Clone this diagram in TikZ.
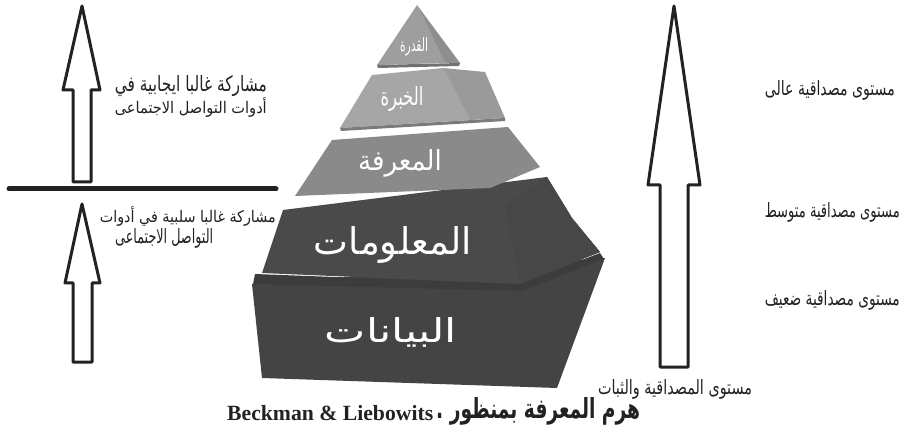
\documentclass[tikz,border=0pt]{standalone}
\usepackage{fontspec}
\usepackage{graphicx}
\setmainfont{Liberation Serif}
\newfontfamily\arabicfont[Script=Arabic]{DejaVu Sans}
\TeXXeTstate=1
\newcommand{\artxt}[3]{\resizebox{#1}{#2}{\arabicfont #3}}
\newcommand{\artxtb}[3]{\resizebox{#1}{#2}{\arabicfont\bfseries #3}}
\definecolor{lay1}{HTML}{9E9E9E}
\definecolor{lay1r}{HTML}{8E8E8E}
\definecolor{lay2}{HTML}{A6A6A6}
\definecolor{lay2r}{HTML}{9A9A9A}
\definecolor{lay3}{HTML}{8A8A8A}
\definecolor{lay4}{HTML}{4A4A4A}
\definecolor{lay4r}{HTML}{474747}
\definecolor{lay5}{HTML}{444444}
\definecolor{strip}{HTML}{3C3C3C}
\definecolor{ink}{HTML}{222222}
\begin{document}
\begin{tikzpicture}[x=1pt,y=-1pt,
  arrowshape/.style={draw=ink, line width=3pt, fill=white, line join=round},
  lbl/.style={inner sep=0pt, text=ink},
  pyl/.style={inner sep=0pt, text=white}]
\useasboundingbox (0,0) rectangle (909,435);
\fill[white] (0,0) rectangle (909,435);

% ---- left arrows and divider
\draw[arrowshape] (82,6) -- (100,90) -- (91,90) -- (91,182) -- (73,182) -- (73,90) -- (63,90) -- cycle;
\draw[ink, line width=5pt, line cap=round] (9,189) -- (276,189);
\draw[arrowshape] (82,204) -- (100,283) -- (92,283) -- (92,362) -- (73,362) -- (73,283) -- (65,283) -- cycle;

% ---- right arrow
\draw[arrowshape] (674,6) -- (700,185) -- (688,185) -- (688,367) -- (660,367) -- (660,185) -- (648,185) -- cycle;

% ---- pyramid (bottom to top)
% layer 5
\fill[lay5] (252,284) -- (605,258) -- (557,388) -- (262,378) -- cycle;
\fill[strip] (255,274) -- (520,284) -- (600,253) -- (604,259) -- (522,291) -- (253,284) -- cycle;
% layer 4
\fill[lay4] (283,210) -- (547,177) -- (572,218) -- (600,252) -- (520,284) -- (262,273) -- cycle;
\fill[lay4r] (547,177) -- (572,218) -- (600,252) -- (520,284) -- (505,205) -- cycle;
% layer 3
\fill[lay3] (332,140) -- (508,127) -- (540,167) -- (490,188) -- (295,196) -- cycle;
% layer 2
\fill[lay2] (372,75) -- (443,68) -- (470,120) -- (340,128) -- cycle;
\fill[lay2r] (443,68) -- (485,72) -- (505,118) -- (470,120) -- cycle;
\fill[lay2r!80!black] (340,128) -- (505,118) -- (505,121) -- (341,131) -- cycle;
% layer 1
\fill[lay1] (417,5) -- (445,63) -- (377,65) -- cycle;
\fill[lay1r] (417,5) -- (460,63) -- (445,63) -- cycle;
\fill[lay1r!80!black] (377,65) -- (460,63) -- (459,66) -- (378,68) -- cycle;

% ---- pyramid labels
\node[pyl] (p1) at (414,47) {\artxt{28pt}{14pt}{\beginR القدرة\endR}};
\node[pyl] (p2) at (402,99) {\artxt{43pt}{19pt}{\beginR الخبرة\endR}};
\node[pyl] (p3) at (400,163) {\artxt{84pt}{21pt}{\beginR المعرفة\endR}};
\node[pyl] (p4) at (393,245) {\artxt{158pt}{28pt}{\beginR المعلومات\endR}};
\node[pyl] (p5) at (391,332) {\artxt{132pt}{25pt}{\beginR البيانات\endR}};

% ---- left labels
\node[lbl, anchor=east] (l1) at (267,86) {\artxt{152pt}{16pt}{\beginR مشاركة غالبا ايجابية  في\endR}};
\node[lbl, anchor=east] (l2) at (267,107) {\artxt{152pt}{16pt}{\beginR أدوات التواصل الاجتماعى\endR}};
\node[lbl, anchor=east] (l3) at (276,216) {\artxt{176pt}{16pt}{\beginR مشاركة غالبا سلبية في أدوات\endR}};
\node[lbl, anchor=west] (l4) at (115,238) {\artxt{98pt}{15pt}{\beginR التواصل الاجتماعى\endR}};

% ---- right labels
\node[lbl, anchor=east] (r1) at (895,90) {\artxt{130pt}{15pt}{\beginR مستوى مصداقية عالى\endR}};
\node[lbl, anchor=east] (r2) at (900,212) {\artxt{135pt}{15pt}{\beginR مستوى مصداقية متوسط\endR}};
\node[lbl, anchor=east] (r3) at (900,300) {\artxt{135pt}{15pt}{\beginR مستوى مصداقية ضعيف\endR}};
\node[lbl] (r4) at (675,389) {\artxt{154pt}{15pt}{\beginR مستوى المصداقية والثبات\endR}};

% ---- caption
\node[lbl, anchor=west] (c1) at (227,413) {\resizebox{206pt}{!}{\bfseries Beckman \& Liebowits}};
\node[lbl, anchor=west] (c2) at (436,411) {\artxtb{204pt}{21pt}{\beginR هرم المعرفة بمنظور .\endR}};
\end{tikzpicture}
\end{document}
